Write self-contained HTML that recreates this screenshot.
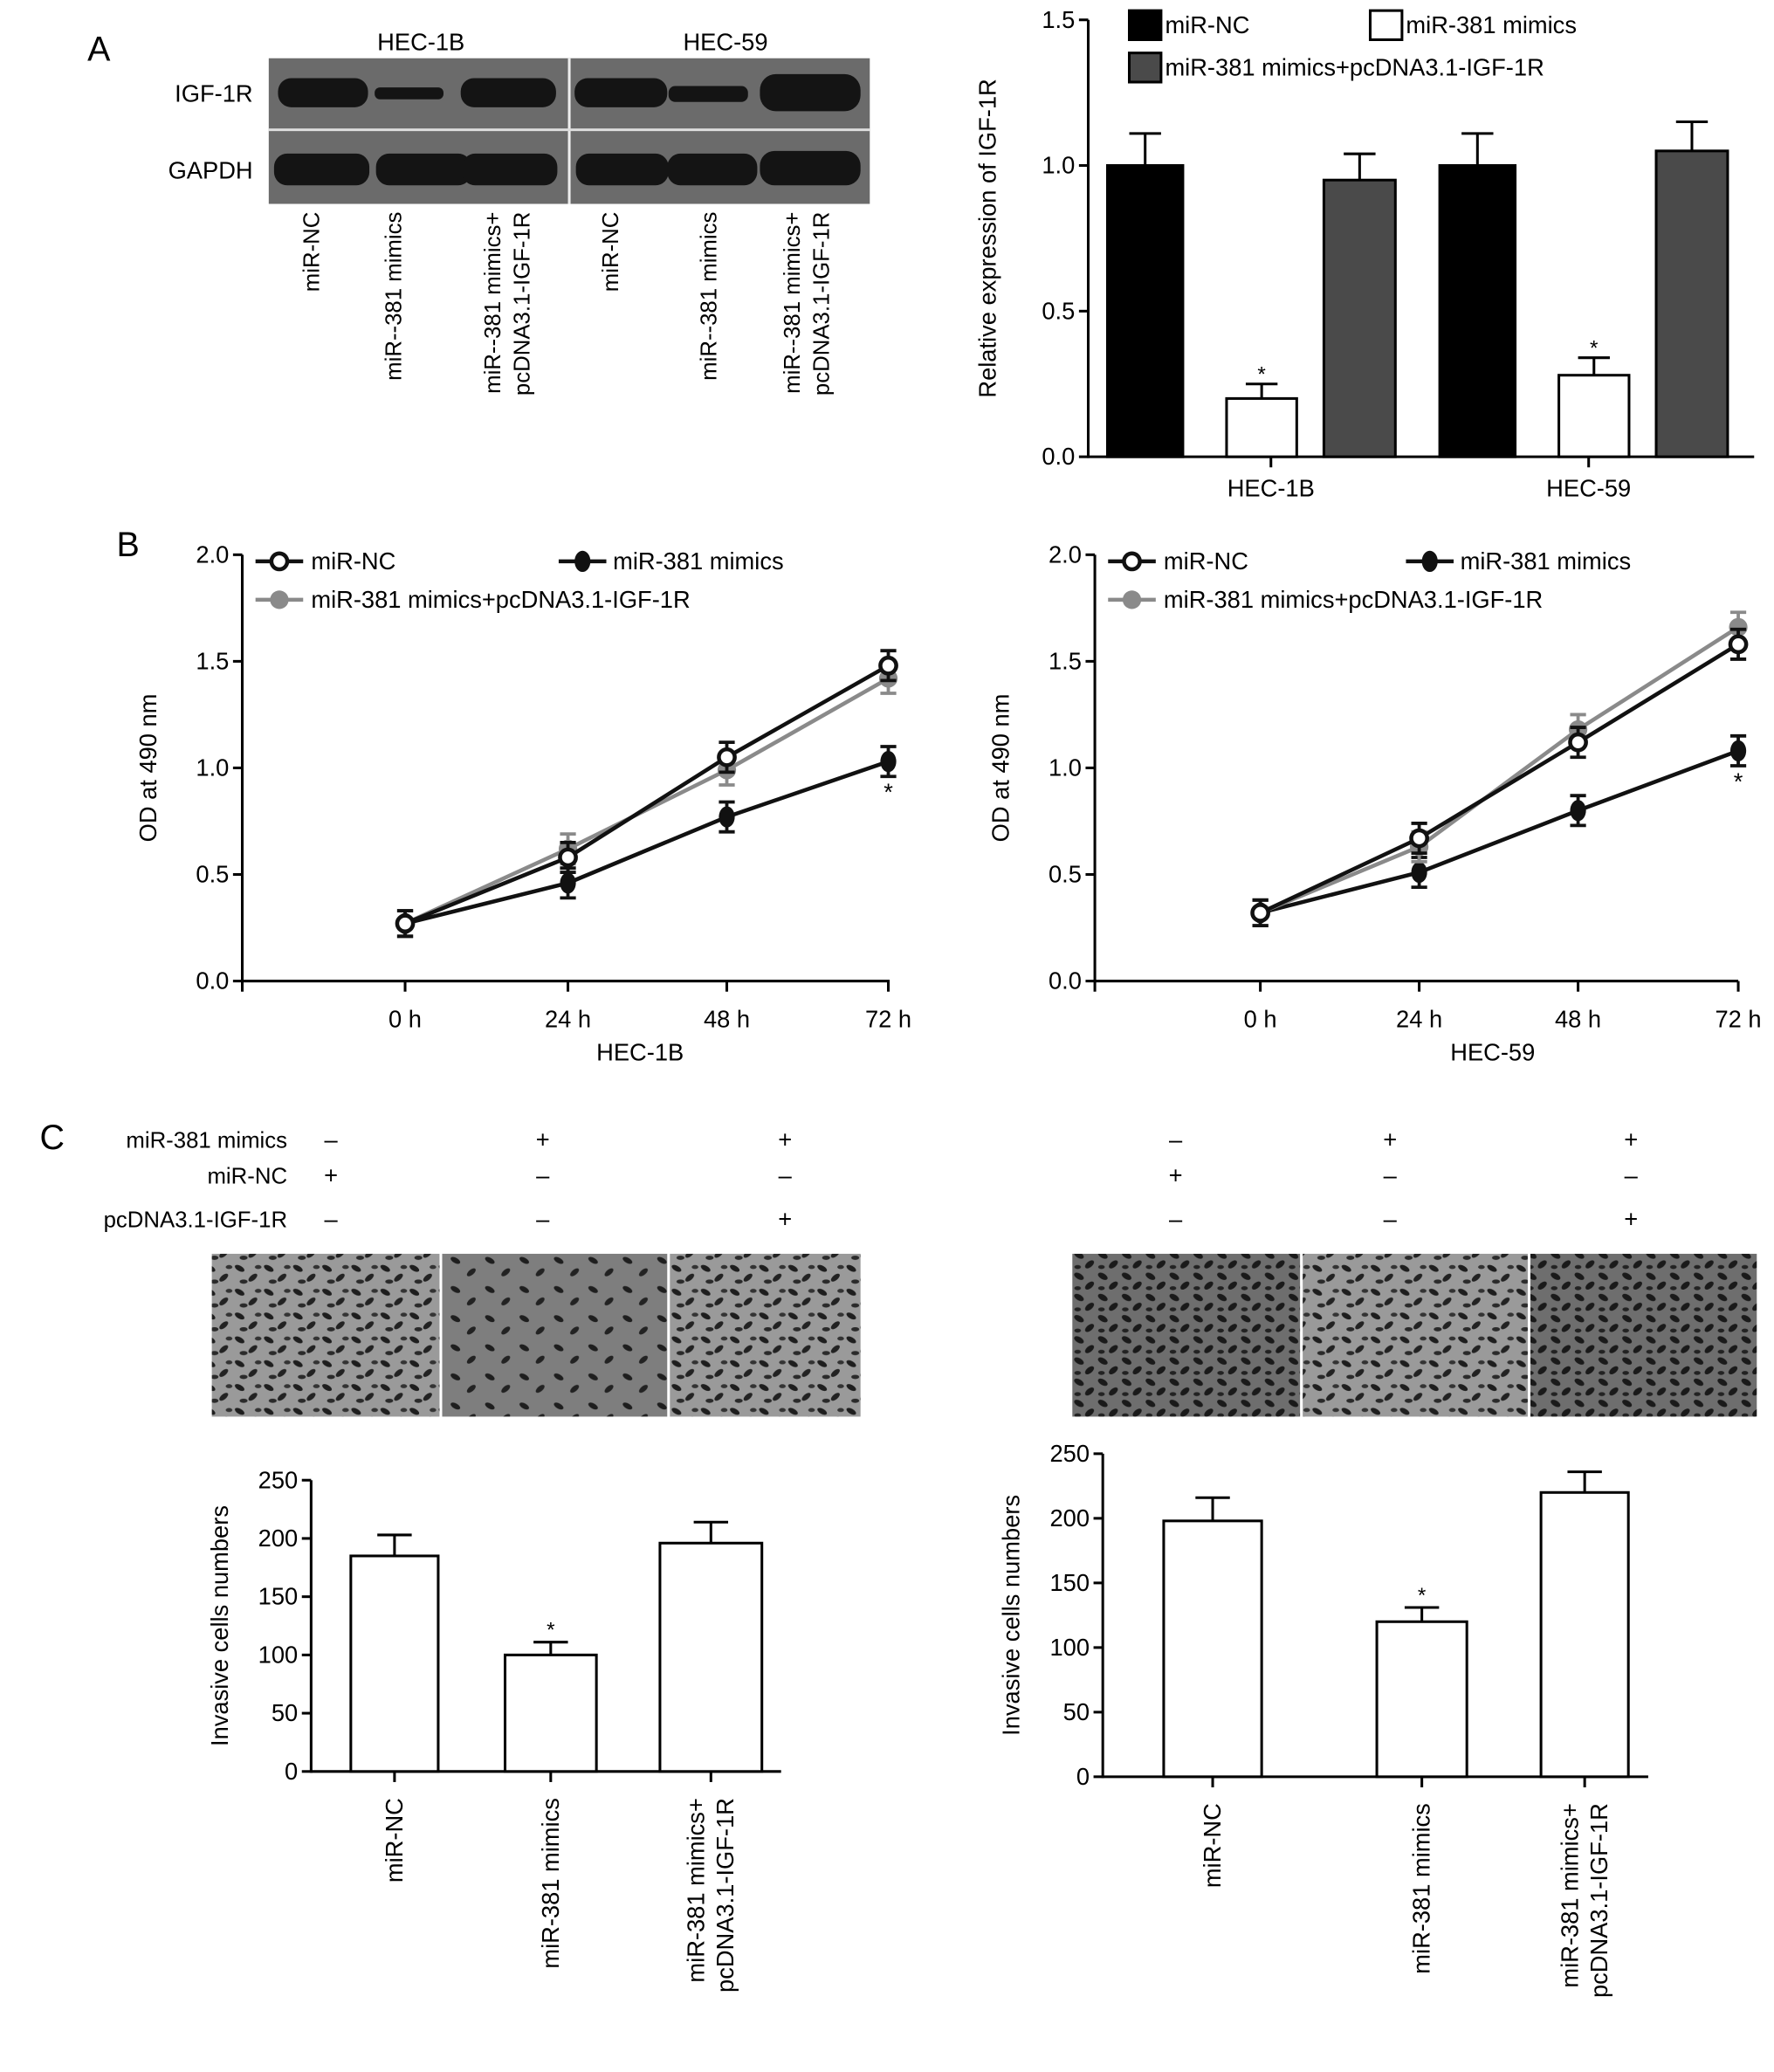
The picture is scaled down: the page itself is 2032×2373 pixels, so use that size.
<!DOCTYPE html>
<html><head><meta charset="utf-8">
<style>
html,body{margin:0;padding:0;background:#fff;}
svg{display:block;font-family:"Liberation Sans",Arial,sans-serif;}
</style></head>
<body>
<svg id="fig" width="2032" height="2373" viewBox="0 0 1340 1565" preserveAspectRatio="none" xmlns="http://www.w3.org/2000/svg">
<defs>
<pattern id="cellsA" width="22" height="18" patternUnits="userSpaceOnUse">
<rect width="22" height="18" fill="#9a9a9a"/>
<ellipse cx="5" cy="4" rx="4" ry="2" fill="#1e1e1e" transform="rotate(30 5 4)"/>
<ellipse cx="15" cy="11" rx="4" ry="2" fill="#222" transform="rotate(-40 15 11)"/>
<ellipse cx="8" cy="14" rx="3" ry="1.6" fill="#2a2a2a"/>
<ellipse cx="19" cy="3" rx="2.5" ry="1.5" fill="#333"/>
</pattern>
<pattern id="cellsB" width="26" height="22" patternUnits="userSpaceOnUse">
<rect width="26" height="22" fill="#7e7e7e"/>
<ellipse cx="6" cy="6" rx="4" ry="2" fill="#1e1e1e" transform="rotate(30 6 6)"/>
<ellipse cx="18" cy="15" rx="4" ry="2" fill="#222" transform="rotate(-40 18 15)"/>
</pattern>
<pattern id="cellsC" width="18" height="16" patternUnits="userSpaceOnUse">
<rect width="18" height="16" fill="#6e6e6e"/>
<ellipse cx="5" cy="4" rx="4" ry="2.2" fill="#1a1a1a" transform="rotate(30 5 4)"/>
<ellipse cx="13" cy="11" rx="4" ry="2.2" fill="#1a1a1a" transform="rotate(-40 13 11)"/>
<ellipse cx="4" cy="13" rx="2.5" ry="1.5" fill="#222"/>
</pattern>
</defs>

<text x="66" y="46" font-size="26">A</text>
<text x="88" y="420" font-size="26">B</text>
<text x="30" y="868" font-size="26">C</text>

<g>
<text x="318" y="38" font-size="18" text-anchor="middle">HEC-1B</text>
<text x="548" y="38" font-size="18" text-anchor="middle">HEC-59</text>
<text x="191" y="77" font-size="18" text-anchor="end">IGF-1R</text>
<text x="191" y="135" font-size="18" text-anchor="end">GAPDH</text>
<rect x="203" y="44" width="454" height="110" fill="#6b6b6b"/>
<line x1="430" y1="44" x2="430" y2="154" stroke="#eee" stroke-width="2"/>
<line x1="203" y1="98" x2="657" y2="98" stroke="#ddd" stroke-width="2"/>
<g fill="#141414">
<rect x="210" y="59" width="68" height="22" rx="10"/>
<rect x="283" y="66" width="52" height="9" rx="4"/>
<rect x="348" y="59" width="72" height="22" rx="10"/>
<rect x="434" y="59" width="70" height="22" rx="10"/>
<rect x="505" y="65" width="60" height="12" rx="5"/>
<rect x="574" y="56" width="76" height="28" rx="12"/>
<rect x="207" y="116" width="72" height="24" rx="10"/>
<rect x="284" y="116" width="72" height="24" rx="10"/>
<rect x="349" y="116" width="72" height="24" rx="10"/>
<rect x="435" y="116" width="70" height="24" rx="10"/>
<rect x="504" y="116" width="68" height="24" rx="10"/>
<rect x="574" y="114" width="76" height="26" rx="11"/>
</g>
<g font-size="17" text-anchor="end">
<text transform="translate(241,160) rotate(-90)">miR-NC</text>
<text transform="translate(303,160) rotate(-90)">miR--381 mimics</text>
<text transform="translate(378,160) rotate(-90)">miR--381 mimics+</text>
<text transform="translate(400,160) rotate(-90)">pcDNA3.1-IGF-1R</text>
<text transform="translate(467,160) rotate(-90)">miR-NC</text>
<text transform="translate(541,160) rotate(-90)">miR--381 mimics</text>
<text transform="translate(604,160) rotate(-90)">miR--381 mimics+</text>
<text transform="translate(626,160) rotate(-90)">pcDNA3.1-IGF-1R</text>
</g>
</g>

<g id="barA"></g>
<g id="lineL"></g>
<g id="lineR"></g>

<g font-size="17">
<text x="217" y="867" text-anchor="end">miR-381 mimics</text>
<text x="217" y="894" text-anchor="end">miR-NC</text>
<text x="217" y="927" text-anchor="end">pcDNA3.1-IGF-1R</text>
<g text-anchor="middle" font-size="18">
<text x="250" y="867">–</text><text x="410" y="867">+</text><text x="593" y="867">+</text>
<text x="250" y="894">+</text><text x="410" y="894">–</text><text x="593" y="894">–</text>
<text x="250" y="927">–</text><text x="410" y="927">–</text><text x="593" y="927">+</text>
<text x="888" y="867">–</text><text x="1050" y="867">+</text><text x="1232" y="867">+</text>
<text x="888" y="894">+</text><text x="1050" y="894">–</text><text x="1232" y="894">–</text>
<text x="888" y="927">–</text><text x="1050" y="927">–</text><text x="1232" y="927">+</text>
</g>
</g>
<g>
<rect x="160" y="947" width="172" height="123" fill="url(#cellsA)"/>
<rect x="334" y="947" width="170" height="123" fill="url(#cellsB)"/>
<rect x="506" y="947" width="144" height="123" fill="url(#cellsA)"/>
<rect x="810" y="947" width="172" height="123" fill="url(#cellsC)"/>
<rect x="984" y="947" width="170" height="123" fill="url(#cellsA)"/>
<rect x="1156" y="947" width="171" height="123" fill="url(#cellsC)"/>
</g>
<g id="barCL"></g>
<g id="barCR"></g>
</svg>
<script>
const barAGroups = ["HEC-1B", "HEC-59"];
const barASeries = ["miR-NC", "miR-381 mimics", "miR-381 mimics+pcDNA3.1-IGF-1R"];
const barANC = [1.0, 1.0];
const barAMimic = [0.2, 0.28];
const barAPc = [0.95, 1.05];
const barANCErr = [0.11, 0.11];
const barAMimicErr = [0.05, 0.06];
const barAPcErr = [0.09, 0.10];
const barATicks = [0.0, 0.5, 1.0, 1.5];

const timeLabels = ["0 h", "24 h", "48 h", "72 h"];
const odTicks = [0.0, 0.5, 1.0, 1.5, 2.0];
const hec1bNC = [0.27, 0.58, 1.05, 1.48];
const hec1bMimic = [0.27, 0.46, 0.77, 1.03];
const hec1bPc = [0.27, 0.62, 0.99, 1.42];
const hec59NC = [0.32, 0.67, 1.12, 1.58];
const hec59Mimic = [0.32, 0.51, 0.80, 1.08];
const hec59Pc = [0.32, 0.63, 1.18, 1.66];
const odErr = [0.06, 0.07, 0.07, 0.07];

const invCats = ["miR-NC", "miR-381 mimics", "miR-381 mimics+|pcDNA3.1-IGF-1R"];
const invTicks = [0, 50, 100, 150, 200, 250];
const inv1bVals = [185, 100, 196];
const inv1bErr = [18, 11, 18];
const inv59Vals = [198, 120, 220];
const inv59Err = [18, 11, 16];

const NS = "http://www.w3.org/2000/svg";
function mk(parent, tag, attrs, text) {
  const e = document.createElementNS(NS, tag);
  for (const k in attrs) e.setAttribute(k, attrs[k]);
  if (text !== undefined) e.textContent = text;
  parent.appendChild(e);
  return e;
}
function lin(d0, d1, r0, r1) { return v => r0 + (v - d0) / (d1 - d0) * (r1 - r0); }

(function () {
  const g = document.getElementById("barA");
  const y = lin(0, 1.5, 345, 15);
  const ax = 822;
  mk(g, "line", {x1: ax, y1: 15, x2: ax, y2: 346, stroke: "#000", "stroke-width": 2});
  mk(g, "line", {x1: ax, y1: 345, x2: 1325, y2: 345, stroke: "#000", "stroke-width": 2});
  barATicks.forEach(t => {
    mk(g, "line", {x1: ax - 7, y1: y(t), x2: ax, y2: y(t), stroke: "#000", "stroke-width": 2});
    const tx = mk(g, "text", {x: ax - 10, y: y(t) + 6, "font-size": 18, "text-anchor": "end"}, t.toFixed(1));
    
    
  });
  const yl = mk(g, "text", {transform: "translate(752,180) rotate(-90)", "font-size": 18, "text-anchor": "middle"}, "Relative expression of IGF-1R");
  
  
  const groupCenters = [950, 1201];
  const tickCenters = [960, 1200];
  const offsets = [-85, 3, 77];
  const widths = [57, 53, 54];
  const fills = ["#000", "#fff", "#4a4a4a"];
  const series = [barANC, barAMimic, barAPc];
  const errs = [barANCErr, barAMimicErr, barAPcErr];
  barAGroups.forEach((grp, gi) => {
    const tc = tickCenters[gi];
    mk(g, "line", {x1: tc, y1: 345, x2: tc, y2: 353, stroke: "#000", "stroke-width": 2});
    const gl = mk(g, "text", {x: tc, y: 375, "font-size": 18, "text-anchor": "middle"}, grp);
    
    
    series.forEach((s, si) => {
      const w = widths[si];
      const bx = groupCenters[gi] + offsets[si];
      const x0 = bx - w / 2;
      const v = s[gi], e = errs[si][gi];
      mk(g, "line", {x1: bx, y1: y(v), x2: bx, y2: y(v + e), stroke: "#000", "stroke-width": 2});
      mk(g, "line", {x1: bx - 12, y1: y(v + e), x2: bx + 12, y2: y(v + e), stroke: "#000", "stroke-width": 2});
      const r = mk(g, "rect", {x: x0, y: y(v), width: w, height: 345 - y(v), fill: fills[si], stroke: "#000", "stroke-width": 2});
      
      
      if (si === 1) mk(g, "text", {x: bx, y: y(v + e) - 2, "font-size": 16, "text-anchor": "middle"}, "*");
    });
  });
  const lg = [[853, 8, "#000", "miR-NC"], [1035, 8, "#fff", "miR-381 mimics"], [853, 40, "#4a4a4a", "miR-381 mimics+pcDNA3.1-IGF-1R"]];
  lg.forEach((l, i) => {
    mk(g, "rect", {x: l[0], y: l[1], width: 24, height: 22, fill: l[2], stroke: "#000", "stroke-width": 2});
    const t = mk(g, "text", {x: l[0] + 27, y: l[1] + 17, "font-size": 18}, barASeries[i]);
    
    
  });
})();

function lineChart(id, ax, xs, axisEnd, groupLabel, nc, mim, pc, legX2) {
  const g = document.getElementById(id);
  const y = lin(0, 2.0, 741, 419);
  mk(g, "line", {x1: ax, y1: 419, x2: ax, y2: 742, stroke: "#000", "stroke-width": 2});
  mk(g, "line", {x1: ax, y1: 741, x2: axisEnd, y2: 741, stroke: "#000", "stroke-width": 2});
  mk(g, "line", {x1: ax, y1: 741, x2: ax, y2: 749, stroke: "#000", "stroke-width": 2});
  odTicks.forEach(t => {
    mk(g, "line", {x1: ax - 7, y1: y(t), x2: ax, y2: y(t), stroke: "#000", "stroke-width": 2});
    const tx = mk(g, "text", {x: ax - 10, y: y(t) + 6, "font-size": 18, "text-anchor": "end"}, t.toFixed(1));
    
    
  });
  timeLabels.forEach((lab, i) => {
    mk(g, "line", {x1: xs[i], y1: 741, x2: xs[i], y2: 749, stroke: "#000", "stroke-width": 2});
    const tx = mk(g, "text", {x: xs[i], y: 776, "font-size": 18, "text-anchor": "middle"}, lab);
    
    
  });
  const gl = mk(g, "text", {x: (xs[0] + xs[3]) / 2 - 5, y: 801, "font-size": 18, "text-anchor": "middle"}, groupLabel);
  
  
  const yl = mk(g, "text", {transform: `translate(${ax - 65},580) rotate(-90)`, "font-size": 18, "text-anchor": "middle"}, "OD at 490 nm");
  
  
  const defs = [[mim, "#111", "diamond"], [pc, "#8a8a8a", "dot"], [nc, "#111", "circle"]];
  defs.forEach(d => {
    const vals = d[0];
    const s = mk(g, "polyline", {points: vals.map((v, i) => xs[i] + "," + y(v)).join(" "), fill: "none", stroke: d[1], "stroke-width": 3});
    
    
    vals.forEach((v, i) => {
      const e = odErr[i];
      mk(g, "line", {x1: xs[i], y1: y(v - e), x2: xs[i], y2: y(v + e), stroke: d[1], "stroke-width": 2.5});
      mk(g, "line", {x1: xs[i] - 6, y1: y(v + e), x2: xs[i] + 6, y2: y(v + e), stroke: d[1], "stroke-width": 2.5});
      mk(g, "line", {x1: xs[i] - 6, y1: y(v - e), x2: xs[i] + 6, y2: y(v - e), stroke: d[1], "stroke-width": 2.5});
      let m;
      if (d[2] === "circle") m = mk(g, "circle", {cx: xs[i], cy: y(v), r: 6, fill: "#fff", stroke: "#111", "stroke-width": 3});
      else if (d[2] === "dot") m = mk(g, "circle", {cx: xs[i], cy: y(v), r: 7, fill: "#8a8a8a"});
      else m = mk(g, "ellipse", {cx: xs[i], cy: y(v), rx: 6, ry: 8, fill: "#111"});
      
      
    });
  });
  mk(g, "text", {x: xs[3], y: y(mim[3] - odErr[3]) + 18, "font-size": 18, "text-anchor": "middle"}, "*");
  const L = ax + 10;
  mk(g, "line", {x1: L, y1: 424, x2: L + 36, y2: 424, stroke: "#111", "stroke-width": 3});
  mk(g, "circle", {cx: L + 18, cy: 424, r: 6, fill: "#fff", stroke: "#111", "stroke-width": 3});
  let t = mk(g, "text", {x: L + 42, y: 430, "font-size": 18}, "miR-NC");
  
  
  mk(g, "line", {x1: legX2, y1: 424, x2: legX2 + 36, y2: 424, stroke: "#111", "stroke-width": 3});
  mk(g, "ellipse", {cx: legX2 + 18, cy: 424, rx: 6, ry: 8, fill: "#111"});
  t = mk(g, "text", {x: legX2 + 41, y: 430, "font-size": 18}, "miR-381 mimics");
  
  
  mk(g, "line", {x1: L, y1: 453, x2: L + 36, y2: 453, stroke: "#8a8a8a", "stroke-width": 3});
  mk(g, "circle", {cx: L + 18, cy: 453, r: 7, fill: "#8a8a8a"});
  t = mk(g, "text", {x: L + 42, y: 459, "font-size": 18}, "miR-381 mimics+pcDNA3.1-IGF-1R");
  
  
}
lineChart("lineL", 183, [306, 429, 549, 671], 672, "HEC-1B", hec1bNC, hec1bMimic, hec1bPc, 422);
lineChart("lineR", 827, [952, 1072, 1192, 1313], 1313, "HEC-59", hec59NC, hec59Mimic, hec59Pc, 1062);

function invChart(id, ax, y0, y250, axisEnd, xs, widths, vals, errs, groupLabel) {
  const g = document.getElementById(id);
  const y = lin(0, 250, y0, y250);
  mk(g, "line", {x1: ax, y1: y250, x2: ax, y2: y0 + 1, stroke: "#000", "stroke-width": 2});
  mk(g, "line", {x1: ax, y1: y0, x2: axisEnd, y2: y0, stroke: "#000", "stroke-width": 2});
  invTicks.forEach(t => {
    mk(g, "line", {x1: ax - 7, y1: y(t), x2: ax, y2: y(t), stroke: "#000", "stroke-width": 2});
    const tx = mk(g, "text", {x: ax - 10, y: y(t) + 6, "font-size": 18, "text-anchor": "end"}, String(t));
    
    
  });
  const yl = mk(g, "text", {transform: `translate(${ax - 63},${(y0 + y250) / 2}) rotate(-90)`, "font-size": 18, "text-anchor": "middle"}, "Invasive cells numbers");
  
  
  invCats.forEach((c, i) => {
    const cx = xs[i], w = widths[i], v = vals[i], e = errs[i];
    mk(g, "line", {x1: cx, y1: y(v), x2: cx, y2: y(v + e), stroke: "#000", "stroke-width": 2});
    mk(g, "line", {x1: cx - 13, y1: y(v + e), x2: cx + 13, y2: y(v + e), stroke: "#000", "stroke-width": 2});
    const r = mk(g, "rect", {x: cx - w / 2, y: y(v), width: w, height: y0 - y(v), fill: "#fff", stroke: "#000", "stroke-width": 2});
    
    
    mk(g, "line", {x1: cx, y1: y0, x2: cx, y2: y0 + 8, stroke: "#000", "stroke-width": 2});
    if (i === 1) mk(g, "text", {x: cx, y: y(v + e) - 4, "font-size": 16, "text-anchor": "middle"}, "*");
    const parts = c.split("|");
    parts.forEach((p, pi) => {
      const off = parts.length === 1 ? 6 : (pi === 0 ? -5 : 17);
      const tx = mk(g, "text", {transform: `translate(${cx + off},${y0 + 20}) rotate(-90)`, "font-size": 18, "text-anchor": "end"}, p);
      
      
    });
  });
  const gl = mk(g, "text", {x: xs[1] + 20, y: 1587, "font-size": 18, "text-anchor": "middle"}, groupLabel);
  
  
}
invChart("barCL", 235, 1338, 1118, 590, [298, 416, 537], [66, 69, 77], inv1bVals, inv1bErr, "HEC-1B");
invChart("barCR", 833, 1342, 1098, 1245, [916, 1074, 1197], [74, 68, 66], inv59Vals, inv59Err, "HEC-59");
</script>
</body></html>
